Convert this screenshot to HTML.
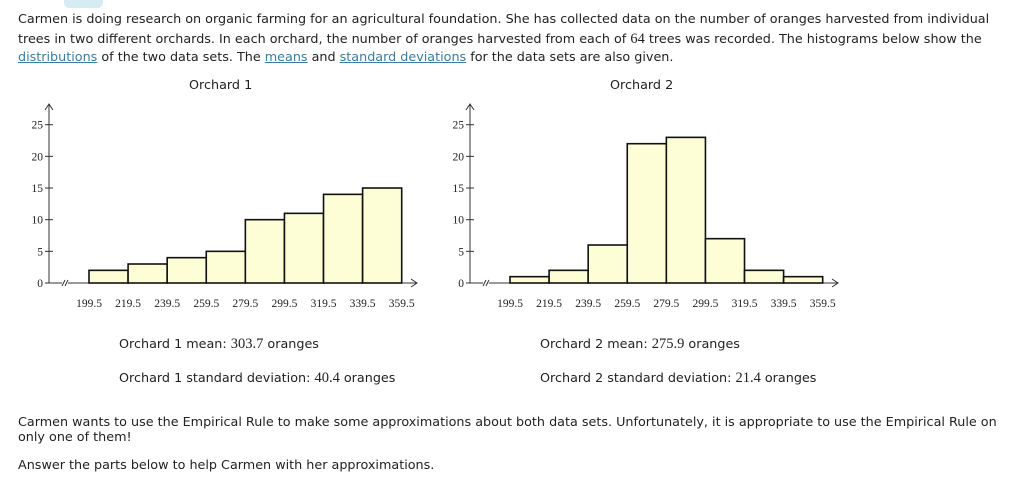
<!DOCTYPE html>
<html><head><meta charset="utf-8"><style>
body{margin:0;width:1024px;height:480px;background:#fff;position:relative;overflow:hidden;font-family:"DejaVu Sans","Liberation Sans",sans-serif;font-size:12.75px;color:#222}
.t{position:absolute;white-space:nowrap}
a{color:#3a7d9c;text-decoration:underline}
.n{font-family:"Liberation Serif",serif;font-size:14.5px}
svg text{font-family:"Liberation Serif",serif;font-size:11.5px;fill:#222}
</style></head><body>
<div style="position:absolute;left:64px;top:-6px;width:39px;height:14px;background:#d4ecf2;border-radius:5px"></div>
<div class="t" style="left:18px;top:12px">Carmen is doing research on organic farming for an agricultural foundation. She has collected data on the number of oranges harvested from individual</div>
<div class="t" style="left:18px;top:31px">trees in two different orchards. In each orchard, the number of oranges harvested from each of <span class="n">64</span> trees was recorded. The histograms below show the</div>
<div class="t" style="left:18px;top:50px"><a>distributions</a> of the two data sets. The <a>means</a> and <a>standard deviations</a> for the data sets are also given.</div>
<div class="t" style="left:189px;top:78px">Orchard 1</div>
<div class="t" style="left:610px;top:78px">Orchard 2</div>
<svg id="c1" style="position:absolute;left:0;top:0" width="512" height="320"></svg>
<svg id="c2" style="position:absolute;left:0;top:0" width="1024" height="320"></svg>
<div class="t" style="left:119px;top:336px">Orchard 1 mean: <span class="n">303.7</span> oranges</div>
<div class="t" style="left:119px;top:370px">Orchard 1 standard deviation: <span class="n">40.4</span> oranges</div>
<div class="t" style="left:540px;top:336px">Orchard 2 mean: <span class="n">275.9</span> oranges</div>
<div class="t" style="left:540px;top:370px">Orchard 2 standard deviation: <span class="n">21.4</span> oranges</div>
<div class="t" style="left:18px;top:415px">Carmen wants to use the Empirical Rule to make some approximations about both data sets. Unfortunately, it is appropriate to use the Empirical Rule on</div>
<div class="t" style="left:18px;top:430px">only one of them!</div>
<div class="t" style="left:18px;top:458px">Answer the parts below to help Carmen with her approximations.</div>
<script>
const binEdges=[199.5,219.5,239.5,259.5,279.5,299.5,319.5,339.5,359.5];
const orchard1Counts=[2,3,4,5,10,11,14,15];
const orchard2Counts=[1,2,6,22,23,7,2,1];
const yTicks=[0,5,10,15,20,25];
const NS='http://www.w3.org/2000/svg';
function mk(svg,tag,attrs){const e=document.createElementNS(NS,tag);for(const k in attrs)e.setAttribute(k,attrs[k]);svg.appendChild(e);return e;}
function draw(svg,ox,counts,prefix){
  const axX=49+ox, y0=283;
  const xs=v=>89+ox+(v-199.5)*(401.7-89)/160;
  const ys=v=>y0-v*(283-124.7)/25;
  let e=mk(svg,'line',{x1:axX,y1:y0,x2:axX,y2:104,stroke:'#333','stroke-width':1});
  
  mk(svg,'polyline',{points:`${axX-4},${110} ${axX},${104} ${axX+4},${110}`,fill:'none',stroke:'#333'});
  e=mk(svg,'line',{x1:axX,y1:y0,x2:417+ox,y2:y0,stroke:'#333','stroke-width':1});
  
  mk(svg,'polyline',{points:`${411+ox},${y0-4} ${417+ox},${y0} ${411+ox},${y0+4}`,fill:'none',stroke:'#333'});
  mk(svg,'rect',{x:62+ox,y:y0-5,width:6,height:10,fill:'#fff'});
  mk(svg,'line',{x1:62+ox,y1:y0+3,x2:65+ox,y2:y0-3,stroke:'#333'});
  mk(svg,'line',{x1:65+ox,y1:y0+3,x2:68+ox,y2:y0-3,stroke:'#333'});
  yTicks.forEach(t=>{
    mk(svg,'line',{x1:axX-4,y1:ys(t),x2:axX+4,y2:ys(t),stroke:'#333'});
    const tx=mk(svg,'text',{x:axX-6,y:ys(t)+4,'text-anchor':'end'});tx.textContent=t;
    
  });
  counts.forEach((c,i)=>{
    const r=mk(svg,'rect',{x:xs(binEdges[i]),y:ys(c),width:xs(binEdges[i+1])-xs(binEdges[i]),height:y0-ys(c),fill:'#fdfdd6',stroke:'#111','stroke-width':1.6});
    
  });
  binEdges.forEach(b=>{
    const tx=mk(svg,'text',{x:xs(b),y:307,'text-anchor':'middle'});tx.textContent=b.toFixed(1);
    
  });
}
draw(document.getElementById('c1'),0,orchard1Counts,'orchard-1');
draw(document.getElementById('c2'),421,orchard2Counts,'orchard-2');
</script>
</body></html>
